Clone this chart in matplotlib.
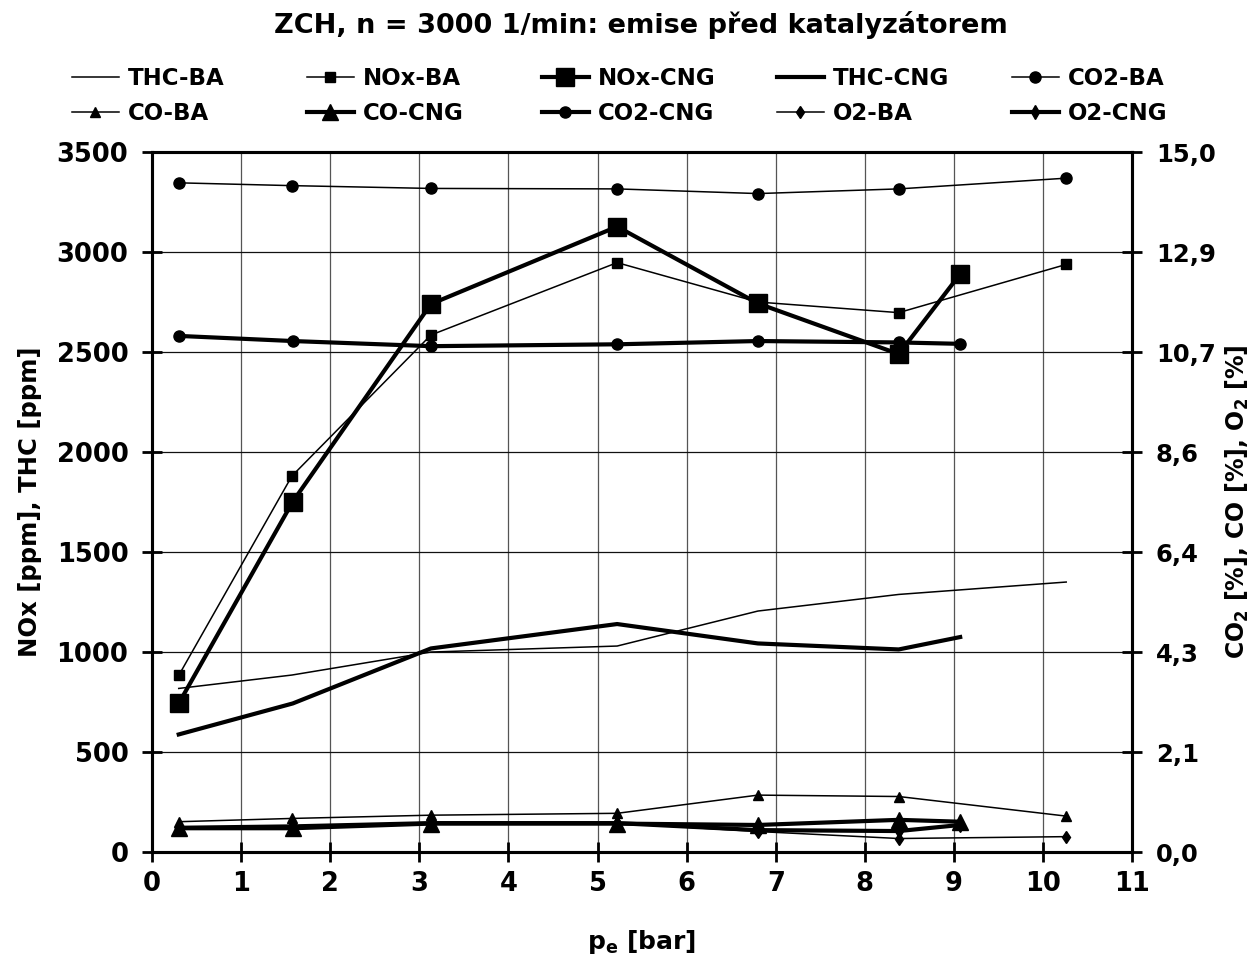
import matplotlib
matplotlib.use("Agg")
import matplotlib.pyplot as plt

plt.rcParams['font.family'] = ['DejaVu Sans']
plt.rcParams['font.weight'] = 'bold'
plt.rcParams['mathtext.fontset'] = 'custom'
plt.rcParams['mathtext.rm'] = 'DejaVu Sans:bold'
plt.rcParams['mathtext.bf'] = 'DejaVu Sans:bold'
plt.rcParams['mathtext.default'] = 'bf'

# ---- data ----
pe_ba = [0.30, 1.57, 3.13, 5.22, 6.80, 8.38, 10.26]
pe_cng = [0.30, 1.58, 3.13, 5.22, 6.80, 8.38, 9.07]

thc_ba = [818, 885, 1000, 1030, 1205, 1288, 1350]
nox_ba = [883, 1880, 2585, 2947, 2750, 2697, 2938]
nox_cng = [743, 1752, 2740, 3127, 2743, 2490, 2890]
thc_cng = [588, 743, 1018, 1140, 1043, 1013, 1075]

co2_ba = [14.34, 14.28, 14.22, 14.21, 14.11, 14.21, 14.44]
co2_cng = [11.06, 10.95, 10.84, 10.88, 10.95, 10.92, 10.89]
co_ba = [0.65, 0.72, 0.79, 0.83, 1.22, 1.19, 0.77]
co_cng = [0.51, 0.51, 0.61, 0.61, 0.58, 0.69, 0.65]
o2_ba = [0.52, 0.55, 0.60, 0.62, 0.44, 0.29, 0.33]
o2_cng = [0.52, 0.55, 0.62, 0.62, 0.47, 0.45, 0.58]

x_ticks = list(range(0, 12))
left_ticks = [0, 500, 1000, 1500, 2000, 2500, 3000, 3500]
right_ticks = [0, 15/7, 30/7, 45/7, 60/7, 75/7, 90/7, 15]
right_labels = ['0,0', '2,1', '4,3', '6,4', '8,6', '10,7', '12,9', '15,0']

title = 'ZCH, n = 3000 1/min: emise před katalyzátorem'
legend_columns = [['THC-BA', 'CO-BA'], ['NOx-BA', 'CO-CNG'], ['NOx-CNG', 'CO2-CNG'],
                  ['THC-CNG', 'O2-BA'], ['CO2-BA', 'O2-CNG']]

fig = plt.figure(figsize=(12.51, 9.58), dpi=100)
ax = fig.add_axes([0.1215, 0.1106, 0.7835, 0.7307])
ax2 = ax.twinx()

thin = 1.1
thick = 3.0
k = 'black'

lines = {}
lines['THC-BA'], = ax.plot(pe_ba, thc_ba, color=k, lw=thin)
lines['NOx-BA'], = ax.plot(pe_ba, nox_ba, color=k, lw=thin, marker='s', ms=7)
lines['NOx-CNG'], = ax.plot(pe_cng, nox_cng, color=k, lw=thick, marker='s', ms=13)
lines['THC-CNG'], = ax.plot(pe_cng, thc_cng, color=k, lw=thick)
lines['CO2-BA'], = ax2.plot(pe_ba, co2_ba, color=k, lw=thin, marker='o', ms=8)
lines['CO-BA'], = ax2.plot(pe_ba, co_ba, color=k, lw=thin, marker='^', ms=7)
lines['CO-CNG'], = ax2.plot(pe_cng, co_cng, color=k, lw=thick, marker='^', ms=12)
lines['CO2-CNG'], = ax2.plot(pe_cng, co2_cng, color=k, lw=thick, marker='o', ms=8)
lines['O2-BA'], = ax2.plot(pe_ba, o2_ba, color=k, lw=thin, marker='d', ms=6)
lines['O2-CNG'], = ax2.plot(pe_cng, o2_cng, color=k, lw=thick, marker='d', ms=7)

ax.set_xlim(0, 11)
ax.set_ylim(0, 3500)
ax2.set_ylim(0, 15)
ax.set_xticks(x_ticks)
ax.set_yticks(left_ticks)
ax2.set_yticks(right_ticks)
ax2.set_yticklabels(right_labels)

ax.grid(True, axis='x', color='#555555', lw=0.9)
ax.grid(True, axis='y', color='#111111', lw=0.9)
ax.set_axisbelow(True)

for a in (ax, ax2):
    for s in a.spines.values():
        s.set_linewidth(2.2)
    a.tick_params(direction='inout', length=14, width=2.0, labelsize=18.5)
ax.tick_params(axis='x', pad=7)
ax.tick_params(axis='y', pad=10)
ax2.tick_params(axis='y', pad=10, labelsize=17.5)

ax.set_xlabel(r'p$_\mathregular{e}$ [bar]', fontsize=18, fontweight='bold')
ax.xaxis.set_label_coords(0.4995, -0.108)
ax.set_ylabel('NOx [ppm], THC [ppm]', fontsize=17.5, fontweight='bold')
ax.yaxis.set_label_coords(-0.112, 0.5)
ax2.set_ylabel(r'CO$_\mathregular{2}$ [%], CO [%], O$_\mathregular{2}$ [%]', fontsize=17, fontweight='bold')
ax2.yaxis.set_label_coords(1.093, 0.5)

fig.text(0.5125, 0.974, title, ha='center', va='center', fontsize=19.5, fontweight='bold')

for i, col in enumerate(legend_columns):
    x0 = (71.7 + 235 * i) / 1251
    fig.legend([lines[n] for n in col], col, loc='center left',
               bbox_to_anchor=(x0, 0.9), frameon=False, borderpad=0,
               borderaxespad=0, prop={'family': 'DejaVu Sans', 'weight': 'bold', 'size': 16.5},
               handlelength=2.05, handletextpad=0.38, labelspacing=0.5)

fig.savefig('out.png', dpi=100)
